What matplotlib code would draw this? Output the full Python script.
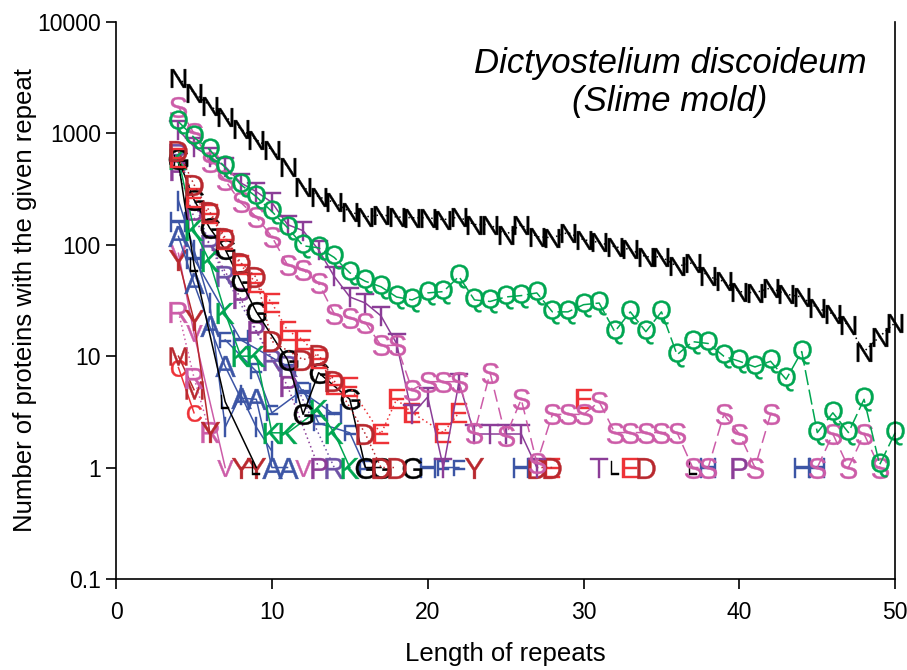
import numpy as np
import matplotlib
matplotlib.use('Agg')
import matplotlib.pyplot as plt

plt.rcParams['font.family'] = 'Liberation Sans'
plt.rcParams['mathtext.fontset'] = 'custom'
plt.rcParams['mathtext.rm'] = 'Liberation Sans'

nan = np.nan

# repeat length -> number of proteins, one list pair per amino acid letter
n_x = list(range(4, 51))
n_y = [3160, 2325, 1780, 1420, 1100, 880, 716, 505, 330, 270, 240, 199, 178, 186, 178, 175,
       175, 168, 178, 152, 152, 123, 152, 118, 116, 129, 111, 105, 96, 91, 78, 78, 64, 69,
       52, 47, 38, 37, 41, 36, 34, 27, 24, 19, 11, 15, 20]

q_x = list(range(4, 51))
q_y = [1277, 920, 716, 495, 347, 270, 199, 143, 98, 94, 77, 56, 47, 42, 34, 32, 37, 38, 52,
       32, 31, 34, 35, 37, 25, 25, 29, 30, 16.6, 25, 16.6, 25, 10.3, 13.5, 13, 10, 9, 8, 9,
       6.2, 11, 2.06, 3.1, 2.06, 4.1, 1.06, 2.06]

s_x = list(range(4, 43)) + [nan, 45, 46, 47, 48, 49]
s_y = [1740, 1000, 560, 380, 240, 178, 118, 66, 60, 45, 24, 22, 20, 12.5, 12.5, 5, 5.9, 5.9,
       5.9, 2.06, 7.1, 1.9, 4.1, 1.1, 3, 3, 3, 3.9, 2.06, 2.06, 2.06, 2.06, 2.06, 1, 1, 3, 2,
       1, 3, nan, 1, 2, 1, 2, 1]

t_x = list(range(4, 28)) + [nan, 31]
t_y = [1075, 760, 620, 505, 360, 300, 240, 152, 134, 90, 52, 34, 30, 23, 13, 3, 4.3, 1, 5.8,
       2, 2, 2, 2, 1, nan, 1]

d_x = [4, 5, 6, 7, 8, 9, 10, 12, 13, 14, 16, 17, 18, nan, 27, 28, nan, 34]
d_y = [690, 347, 199, 116, 69, 51, 13.6, 9.3, 10.3, 6, 2, 1, 1, nan, 1, 1, nan, 1]

e_x = [4, 5, 6, 7, 8, 9, 10, 11, 12, 13, 14, 15, 17, 18, 19, 21, 22, nan, 28, nan, 30, nan, 33]
e_y = [600, 265, 190, 110, 66, 45, 30, 17, 14, 9.5, 5.5, 5.3, 2, 4.1, 3.1, 2.06, 3.1, nan, 1,
       nan, 4.1, nan, 1]

g_x = [4, 5, 6, 7, 8, 9, 11, 12, 13, 15, 16, 17, nan, 19]
g_y = [585, 254, 142, 91, 47, 25, 9.3, 3, 7.1, 4.1, 1, 1, nan, 1]

k_x = [4, 5, 6, 7, 8, 9, 10, 11, 13, 14, 15]
k_y = [585, 137, 71, 24.5, 10, 10, 2.05, 2.05, 3.3, 2.05, 1]

p_x = [4, 5, 8, 9, 11, 13, nan, 40]
p_y = [470, 175, 33, 17, 5.4, 1, nan, 1]

r_x = [4, 6, 7, 10, 11, 14]
r_y = [650, 100, 52, 9.3, 8.1, 1]

a_x = [4, 5, 6, 7, 8, 9, 10, 11]
a_y = [119, 45, 18.6, 8.1, 4.2, 4.1, 1, 1]

i_x = [4, 5, 6, 7, 8, 9, 10]
i_y = [250, 90, 30, 2.3, 4.5, 2.3, 1.4]

h_x = [4, 5, 8, 11, 12, 14, nan, 20, nan, 26, nan, 38, nan, 44, 45]
h_y = [160, 75, 14, 8.1, 4.7, 3, nan, 1, nan, 1, nan, 1, nan, 1, 1]

f_x = [7, 9, 10, 12, 13, 15, 16, nan, 21, 22]
f_y = [14, 7.3, 3.1, 5, 2.5, 2.05, 1, nan, 1, 1]

y_x = [4, 5, 6, nan, 8, 9, nan, 23]
y_y = [73, 21, 2.1, nan, 1, 1, nan, 1]

v_x = [4, 5, 7, nan, 12]
v_y = [84, 16, 1, nan, 1]

rp_x = [4, 5, 6]
rp_y = [25, 6.4, 2.1]

m_x = [4, 5]
m_y = [10, 5]

c_x = [4, 5]
c_y = [7.9, 3.1]

l_x = [4, 5, 7, 9, nan, 32, nan, 37]
l_y = [550, 66, 3.9, 1, nan, 1, nan, 1]

BLACK = 'black'
GREEN = '#00A651'
PINK = '#CC5CA8'
PURPLE = '#8B3D97'
VIOLET = '#6E52A6'
DKRED = '#B8282E'
RED = '#EE3237'
BLUE = '#3C55A5'

fig = plt.figure(figsize=(9.07, 6.70), dpi=100)
ax = fig.add_axes([0.128, 0.136, 0.859, 0.831])


def draw(x, y, letter, color, ls, ms=15):
    ax.plot(x, y, color=color, linestyle=ls, lw=1.1,
            marker=r'$\mathrm{%s}$' % letter, markersize=ms,
            markerfacecolor=color, markeredgecolor=color, markeredgewidth=0.3,
            clip_on=False)


dotted = (0, (1, 2))
draw(c_x, c_y, 'C', RED, '-', 12)
draw(m_x, m_y, 'M', DKRED, '-', 13)
draw(rp_x, rp_y, 'R', PINK, dotted)
draw(v_x, v_y, 'V', PINK, '-', 12)
draw(y_x, y_y, 'Y', DKRED, '-')
draw(i_x, i_y, 'I', BLUE, '-')
draw(f_x, f_y, 'F', BLUE, '-', 12)
draw(h_x, h_y, 'H', BLUE, '-')
draw(a_x, a_y, 'A', BLUE, '-')
draw(r_x, r_y, 'R', VIOLET, dotted)
draw(p_x, p_y, 'P', PURPLE, dotted)
draw(l_x, l_y, 'L', BLACK, '-', 10)
draw(k_x, k_y, 'K', GREEN, '-')
draw(g_x, g_y, 'G', BLACK, '-')
draw(e_x, e_y, 'E', RED, dotted)
draw(d_x, d_y, 'D', DKRED, dotted)
draw(t_x, t_y, 'T', PURPLE, '-')
draw(s_x, s_y, 'S', PINK, (0, (8, 4)))
draw(q_x, q_y, 'Q', GREEN, (0, (10, 3)), 17)
draw(n_x, n_y, 'N', BLACK, dotted, 13.5)

ax.set_yscale('log')
ax.set_xlim(0, 50)
ax.set_ylim(0.1, 10000)
ax.set_yticks([0.1, 1, 10, 100, 1000, 10000])
ax.set_yticklabels(['0.1', '1', '10', '100', '1000', '10000'])
ax.yaxis.set_minor_locator(matplotlib.ticker.NullLocator())
ax.set_xticks([0, 10, 20, 30, 40, 50])
ax.spines['top'].set_visible(False)
for side in ['left', 'bottom', 'right']:
    ax.spines[side].set_linewidth(1.2)
ax.tick_params(axis='both', direction='out', length=7, width=1.2, labelsize=16.5)
ax.tick_params(axis='x', pad=9)
ax.tick_params(axis='y', pad=4)

ax.set_xlabel('Length of repeats', fontsize=18.5, labelpad=13)
ax.set_ylabel('Number of proteins with the given repeat', fontsize=18.5, labelpad=0)

ax.text(0.711, 0.926, 'Dictyostelium discoideum', transform=ax.transAxes,
        ha='center', va='center', fontsize=25, style='italic')
ax.text(0.711, 0.857, '(Slime mold)', transform=ax.transAxes,
        ha='center', va='center', fontsize=25, style='italic')

fig.savefig('out.png', dpi=100)
